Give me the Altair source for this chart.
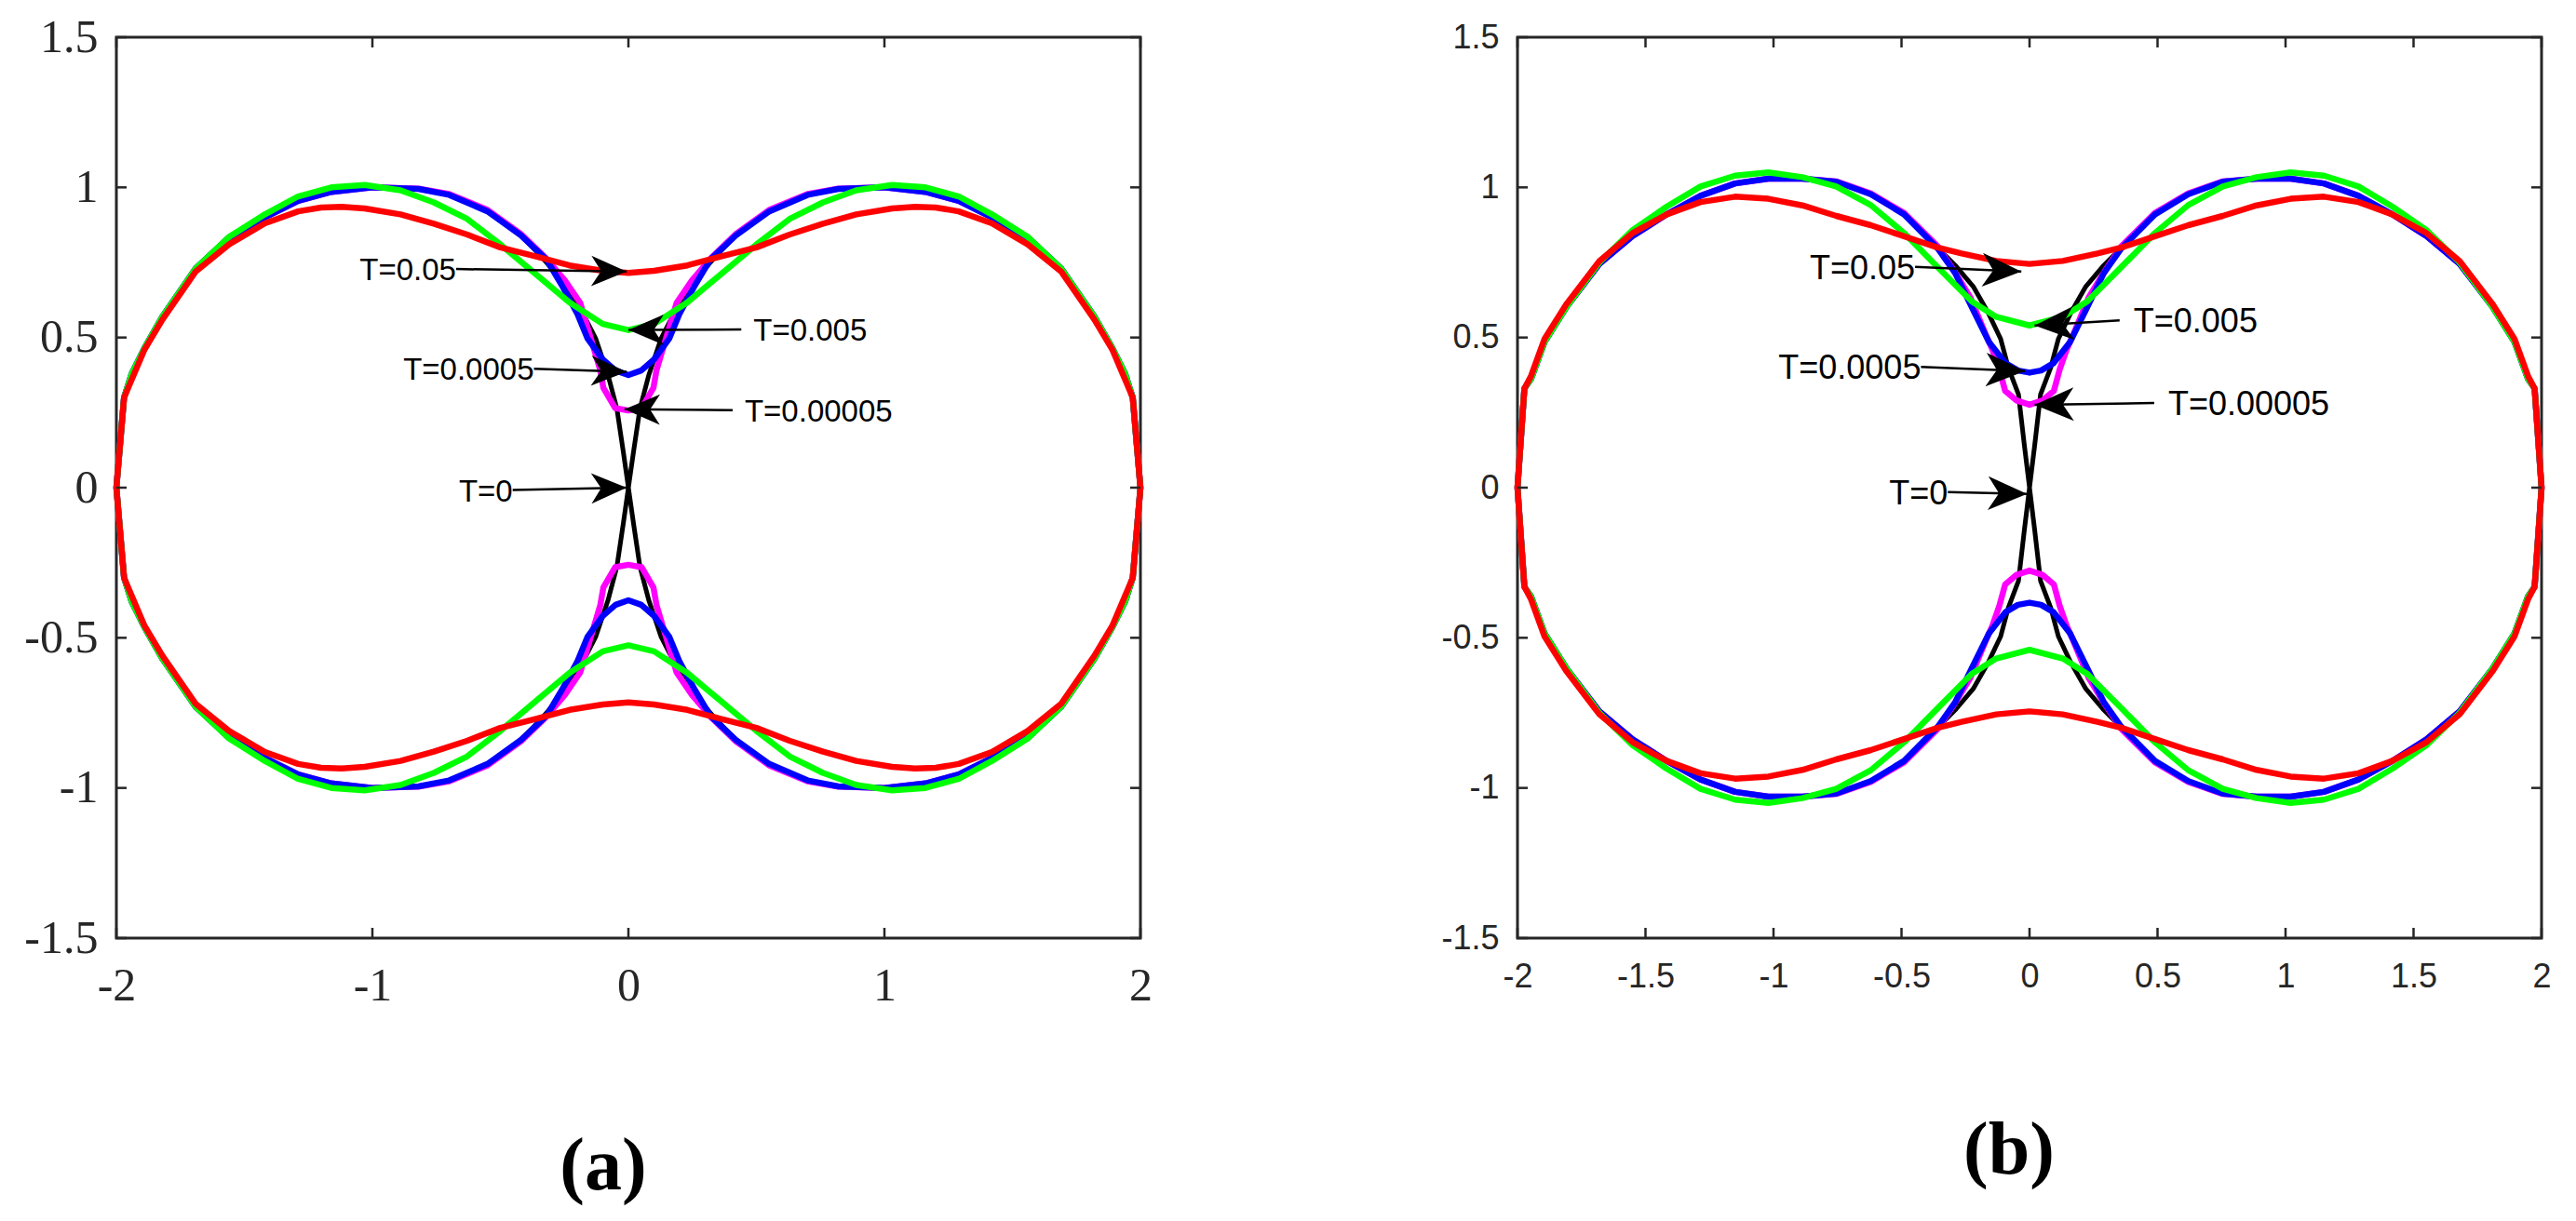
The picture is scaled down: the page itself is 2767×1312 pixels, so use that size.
import math
import altair as alt
import pandas as pd

# ---------------- Panel (a): upper-right quadrant of each closed curve ----------------
A_BLACK_X = [0.0, 0.02, 0.045, 0.08, 0.128, 0.19, 0.26, 0.34, 0.42, 0.55, 0.70, 0.82, 1.0, 1.16, 1.29, 1.42, 1.56, 1.69, 1.82, 1.89, 1.94, 1.97, 2.0]
A_BLACK_Y = [0.0, 0.12, 0.263, 0.376, 0.497, 0.60, 0.69, 0.77, 0.84, 0.92, 0.975, 0.995, 1.0, 0.985, 0.955, 0.90, 0.833, 0.73, 0.57, 0.465, 0.38, 0.30, 0.0]
A_MAG_X = [0.0, 0.052, 0.098, 0.11, 0.143, 0.188, 0.248, 0.323, 0.42, 0.55, 0.70, 0.82, 1.0, 1.16, 1.29, 1.42, 1.56, 1.69, 1.82, 1.89, 1.94, 1.97, 2.0]
A_MAG_Y = [0.257, 0.265, 0.333, 0.392, 0.486, 0.615, 0.69, 0.765, 0.845, 0.925, 0.978, 0.996, 1.0, 0.985, 0.955, 0.90, 0.833, 0.73, 0.57, 0.465, 0.38, 0.30, 0.0]
A_BLUE_X = [0.0, 0.05, 0.10, 0.16, 0.20, 0.26, 0.32, 0.42, 0.55, 0.70, 0.82, 1.0, 1.16, 1.29, 1.42, 1.56, 1.69, 1.82, 1.89, 1.94, 1.97, 2.0]
A_BLUE_Y = [0.375, 0.39, 0.427, 0.497, 0.58, 0.674, 0.76, 0.84, 0.92, 0.975, 0.995, 1.0, 0.985, 0.955, 0.90, 0.833, 0.73, 0.57, 0.465, 0.38, 0.30, 0.0]
A_GREEN_X = [0.0, 0.10, 0.23, 0.36, 0.50, 0.63, 0.76, 0.89, 1.03, 1.16, 1.29, 1.42, 1.56, 1.69, 1.82, 1.89, 1.94, 1.97, 2.0]
A_GREEN_Y = [0.525, 0.545, 0.617, 0.71, 0.81, 0.895, 0.95, 0.99, 1.008, 1.0, 0.97, 0.91, 0.835, 0.73, 0.57, 0.465, 0.38, 0.30, 0.0]
A_RED_X = [0.0, 0.10, 0.23, 0.36, 0.50, 0.63, 0.76, 0.89, 1.03, 1.12, 1.20, 1.29, 1.42, 1.56, 1.69, 1.82, 1.89, 1.95, 1.97, 2.0]
A_RED_Y = [0.715, 0.722, 0.74, 0.77, 0.80, 0.843, 0.879, 0.91, 0.93, 0.935, 0.933, 0.92, 0.88, 0.81, 0.72, 0.56, 0.46, 0.34, 0.30, 0.0]

# ---------------- Panel (b) ----------------
B_BLACK_X = [0.0, 0.02, 0.043, 0.083, 0.113, 0.16, 0.22, 0.29, 0.36, 0.49, 0.62, 0.755, 0.887, 1.02, 1.15, 1.285, 1.417, 1.55, 1.68, 1.81, 1.894, 1.947, 1.973, 2.0]
B_BLACK_Y = [0.0, 0.14, 0.31, 0.40, 0.496, 0.58, 0.67, 0.74, 0.80, 0.91, 0.977, 1.019, 1.029, 1.029, 1.013, 0.972, 0.91, 0.838, 0.745, 0.60, 0.486, 0.362, 0.33, 0.0]
B_MAG_X = [0.0, 0.05, 0.095, 0.118, 0.145, 0.172, 0.232, 0.293, 0.36, 0.49, 0.62, 0.755, 0.887, 1.02, 1.15, 1.285, 1.417, 1.55, 1.68, 1.81, 1.894, 1.947, 1.973, 2.0]
B_MAG_Y = [0.276, 0.29, 0.322, 0.394, 0.46, 0.512, 0.635, 0.72, 0.805, 0.915, 0.98, 1.02, 1.029, 1.029, 1.013, 0.972, 0.91, 0.838, 0.745, 0.60, 0.486, 0.362, 0.33, 0.0]
B_BLUE_X = [0.0, 0.045, 0.093, 0.159, 0.225, 0.29, 0.358, 0.49, 0.62, 0.755, 0.887, 1.02, 1.15, 1.285, 1.417, 1.55, 1.68, 1.81, 1.894, 1.947, 1.973, 2.0]
B_BLUE_Y = [0.383, 0.39, 0.414, 0.486, 0.60, 0.714, 0.796, 0.91, 0.977, 1.019, 1.029, 1.029, 1.013, 0.972, 0.91, 0.838, 0.745, 0.60, 0.486, 0.362, 0.33, 0.0]
B_GREEN_X = [0.0, 0.13, 0.225, 0.358, 0.49, 0.62, 0.755, 0.887, 1.02, 1.15, 1.285, 1.417, 1.55, 1.68, 1.81, 1.894, 1.947, 1.973, 2.0]
B_GREEN_Y = [0.54, 0.569, 0.62, 0.734, 0.848, 0.941, 1.003, 1.034, 1.05, 1.039, 1.003, 0.936, 0.858, 0.75, 0.60, 0.486, 0.362, 0.33, 0.0]
B_RED_X = [0.0, 0.13, 0.265, 0.36, 0.49, 0.62, 0.755, 0.887, 1.02, 1.15, 1.285, 1.417, 1.55, 1.68, 1.81, 1.894, 1.947, 1.973, 2.0]
B_RED_Y = [0.745, 0.755, 0.78, 0.80, 0.837, 0.874, 0.905, 0.94, 0.962, 0.969, 0.951, 0.91, 0.848, 0.755, 0.61, 0.496, 0.372, 0.33, 0.0]

# ---------------- Annotations ----------------
LABELS = ["T=0.05", "T=0.005", "T=0.0005", "T=0.00005", "T=0"]
TEXT_SIDE = ["left", "right", "left", "right", "left"]

A_TIP_X = [-0.007, 0.0, -0.007, -0.015, -0.007]
A_TIP_Y = [0.72, 0.525, 0.386, 0.261, 0.0]
A_TAIL_X = [-0.673, 0.441, -0.369, 0.407, -0.452]
A_TAIL_Y = [0.728, 0.527, 0.396, 0.258, -0.008]

B_TIP_X = [-0.032, 0.02, -0.0175, 0.02, -0.0095]
B_TIP_Y = [0.72, 0.54, 0.388, 0.276, -0.021]
B_TAIL_X = [-0.447, 0.352, -0.424, 0.487, -0.319]
B_TAIL_Y = [0.735, 0.557, 0.402, 0.282, -0.015]

A_XTICKS = [-2, -1, 0, 1, 2]
B_XTICKS = [-2, -1.5, -1, -0.5, 0, 0.5, 1, 1.5, 2]
YTICKS = [-1.5, -1, -0.5, 0, 0.5, 1, 1.5]

W, H = 1100, 968
TICK = 11
FRAME = "#262626"


def full_loop(xs, ys):
    pts = list(zip(xs, ys))
    lr = [(x, -y) for x, y in reversed(pts)]
    ll = [(-x, -y) for x, y in pts]
    ul = [(-x, y) for x, y in reversed(pts)]
    return pts + lr[1:] + ll[1:] + ul[1:]


def make_panel(curves, xticks, tips, tails, lab_font, lab_size, ann_size,
               caption, cap_dx, head_size, head_path, gap, xpad, ypad):
    xs = alt.Scale(domain=[-2, 2], nice=False, zero=False)
    ys = alt.Scale(domain=[-1.5, 1.5], nice=False, zero=False)
    xa = alt.Axis(values=xticks, title=None, ticks=False, domain=False, grid=False,
                  labelFont=lab_font, labelFontSize=lab_size, labelColor=FRAME,
                  labelPadding=xpad, labelFlush=False, labelOverlap=False,
                  labelExpr="toString(datum.value)")
    ya = alt.Axis(values=YTICKS, title=None, ticks=False, domain=False, grid=False,
                  labelFont=lab_font, labelFontSize=lab_size, labelColor=FRAME,
                  labelPadding=ypad, labelFlush=False, labelOverlap=False,
                  labelExpr="toString(datum.value)")

    def X(f):
        return alt.X(f, scale=xs, axis=xa)

    def Y(f):
        return alt.Y(f, scale=ys, axis=ya)

    layers = []
    for color, width, qx, qy in curves:
        pts = full_loop(qx, qy)
        df = pd.DataFrame({"x": [p[0] for p in pts], "y": [p[1] for p in pts],
                           "order": list(range(len(pts)))})
        layers.append(
            alt.Chart(df).mark_line(color=color, strokeWidth=width, strokeJoin="round",
                                    strokeCap="round")
            .encode(x=X("x:Q"), y=Y("y:Q"), order="order:Q")
        )

    # inward tick marks on all four sides
    xt = pd.DataFrame({"x": xticks})
    yt = pd.DataFrame({"y": YTICKS})
    tk = dict(color=FRAME, strokeWidth=2.5)
    layers.append(alt.Chart(xt).mark_rule(**tk).encode(
        x=X("x:Q"), y=alt.value(H), y2=alt.value(H - TICK)))
    layers.append(alt.Chart(xt).mark_rule(**tk).encode(
        x=X("x:Q"), y=alt.value(0), y2=alt.value(TICK)))
    layers.append(alt.Chart(yt).mark_rule(**tk).encode(
        y=Y("y:Q"), x=alt.value(0), x2=alt.value(TICK)))
    layers.append(alt.Chart(yt).mark_rule(**tk).encode(
        y=Y("y:Q"), x=alt.value(W), x2=alt.value(W - TICK)))

    # annotation arrows
    kx, ky = W / 4.0, H / 3.0
    angles = []
    for (tx, ty), (sx, sy) in zip(tips, tails):
        dxp = (tx - sx) * kx
        dyp = -(ty - sy) * ky
        angles.append(math.degrees(math.atan2(dyp, dxp)) % 360)
    ann = pd.DataFrame({
        "label": LABELS, "side": TEXT_SIDE,
        "x": [t[0] for t in tails], "y": [t[1] for t in tails],
        "x2": [t[0] for t in tips], "y2": [t[1] for t in tips],
        "angle": angles,
    })
    layers.append(alt.Chart(ann).mark_rule(color="black", strokeWidth=2.5).encode(
        x=X("x:Q"), y=Y("y:Q"), x2="x2:Q", y2="y2:Q"))
    layers.append(alt.Chart(ann).mark_point(shape=head_path, filled=True, color="black",
                                            opacity=1, size=head_size, strokeWidth=0)
                  .transform_calculate(hx="datum.x2", hy="datum.y2").encode(
        x=X("hx:Q"), y=Y("hy:Q"),
        angle=alt.Angle("angle:Q", scale=None)))
    layers.append(alt.Chart(ann).transform_filter(alt.datum.side == "left").mark_text(
        align="right", baseline="middle", font="Liberation Sans", fontSize=ann_size,
        color="black", dy=2).encode(x=X("x:Q"), y=Y("y:Q"), text="label:N"))
    layers.append(alt.Chart(ann).transform_filter(alt.datum.side == "right").mark_text(
        align="left", baseline="middle", font="Liberation Sans", fontSize=ann_size,
        color="black", dx=gap, dy=2).encode(x=X("x:Q"), y=Y("y:Q"), text="label:N"))

    return alt.layer(*layers).properties(
        width=W, height=H,
        title=alt.TitleParams(caption, orient="bottom", anchor="middle", frame="group",
                              font="Liberation Serif", fontSize=80, fontWeight="bold",
                              color="black", dx=cap_dx, offset=131),
    )


CURVE_STYLE = [("#000000", 5), ("#FF00FF", 6.5), ("#0000FF", 6.5), ("#00FF00", 6.5), ("#FF0000", 6.5)]

a_curves = [(c, w, qx, qy) for (c, w), (qx, qy) in zip(CURVE_STYLE, [
    (A_BLACK_X, A_BLACK_Y), (A_MAG_X, A_MAG_Y), (A_BLUE_X, A_BLUE_Y),
    (A_GREEN_X, A_GREEN_Y), (A_RED_X, A_RED_Y)])]
b_curves = [(c, w, qx, qy) for (c, w), (qx, qy) in zip(CURVE_STYLE, [
    (B_BLACK_X, B_BLACK_Y), (B_MAG_X, B_MAG_Y), (B_BLUE_X, B_BLUE_Y),
    (B_GREEN_X, B_GREEN_Y), (B_RED_X, B_RED_Y)])]

HEAD = "M0,0 L-1,-0.43 L-0.72,0 L-1,0.43 Z"

panel_a = make_panel(a_curves, A_XTICKS, list(zip(A_TIP_X, A_TIP_Y)), list(zip(A_TAIL_X, A_TAIL_Y)),
                     "Liberation Serif", 50, 33, "(a)", -27, 5776, HEAD, 13, 26, 20)
panel_b = make_panel(b_curves, B_XTICKS, list(zip(B_TIP_X, B_TIP_Y)), list(zip(B_TAIL_X, B_TAIL_Y)),
                     "Liberation Sans", 36, 36, "(b)", -22, 7056, HEAD, 15, 24, 20)

chart = alt.hconcat(panel_a, panel_b, spacing=307).properties(
    padding={"left": 16, "top": 5, "right": 5, "bottom": 5}, background="white"
).configure_view(stroke=FRAME, strokeWidth=3)

chart.save("out.html", embed_options={"renderer": "svg", "actions": False})
